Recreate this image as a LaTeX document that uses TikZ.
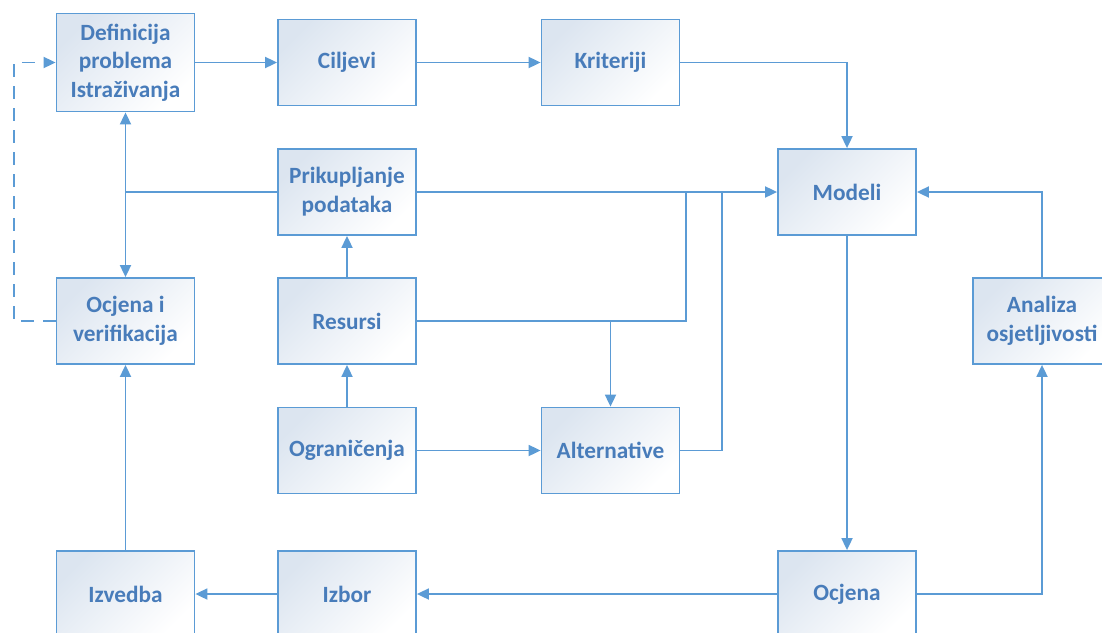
\documentclass[tikz,border=0pt]{standalone}
\usepackage{fontspec}
\setmainfont{Carlito}
\usetikzlibrary{arrows.meta}
\definecolor{lineblue}{RGB}{91,155,213}
\definecolor{textblue}{RGB}{72,124,186}
\definecolor{shadeblue}{RGB}{220,229,240}
\tikzset{
  box/.style={draw=lineblue, line width=1.8pt, minimum width=138pt, minimum height=86pt,
    top color=shadeblue, bottom color=white, shading angle=45,
    text=textblue, align=center, inner sep=2pt,
    font=\bfseries\fontsize{23.3}{28.7}\selectfont},
  conn/.style={draw=lineblue, line width=1.8pt},
  arr/.style={conn, -{Triangle[length=12pt,width=11pt]}},
  darr/.style={conn, {Triangle[length=12pt,width=11pt]}-{Triangle[length=12pt,width=11pt]}},
  dashline/.style={conn, dash pattern=on 13pt off 9pt, -{Triangle[length=12pt,width=11pt]}}
}
\begin{document}
\begin{tikzpicture}[x=1pt,y=-1pt]
\useasboundingbox (0,0) rectangle (1102,632);
\clip (0,0) rectangle (1102,632);
% boxes
\node[box, minimum height=98pt] (def) at (125.5,62.5) {Definicija\\problema\\Istraživanja};
\node[box] (cil) at (347,62.5) {Ciljevi};
\node[box] (kri) at (610.5,62.5) {Kriteriji};
\node[box] (mod) at (847,192) {Modeli};
\node[box] (pri) at (347,192) {Prikupljanje\\podataka};
\node[box] (ocv) at (125.5,321) {Ocjena i\\verifikacija};
\node[box] (res) at (347,321) {Resursi};
\node[box] (ana) at (1042,321) {Analiza\\osjetljivosti};
\node[box] (ogr) at (347,450.5) {Ograničenja};
\node[box] (alt) at (610.5,450.5) {Alternative};
\node[box] (izv) at (125.5,594) {Izvedba};
\node[box] (izb) at (347,594) {Izbor};
\node[box] (ocj) at (847,594) {Ocjena};
% junction coordinates
\coordinate (j1) at (686,192);
\coordinate (j2) at (722,192);
\coordinate (dl) at (14,321);
% connectors
\draw[arr] (def.east) -- (cil.west);
\draw[arr] (cil.east) -- (kri.west);
\draw[arr] (kri.east) -| (mod.north);
\draw[darr] (def.south) -- (ocv.north);
\draw[conn] (pri.west) -- (def.south |- pri.west);
\draw[arr] (pri.east) -- (mod.west);
\draw[arr] (res.north) -- (pri.south);
\draw[arr] (ogr.north) -- (res.south);
\draw[conn] (res.east) -| (j1);
\draw[arr] (alt.north |- res.east) -- (alt.north);
\draw[arr] (ogr.east) -- (alt.west);
\draw[conn] (alt.east) -| (j2);
\draw[arr] (mod.south) -- (ocj.north);
\draw[arr] (ocj.east) -| (ana.south);
\draw[arr] (ana.north) |- (mod.east);
\draw[arr] (ocj.west) -- (izb.east);
\draw[arr] (izb.west) -- (izv.east);
\draw[arr] (izv.north) -- (ocv.south);
\draw[dashline] (ocv.west) -- (dl) |- (def.west);
\end{tikzpicture}
\end{document}
